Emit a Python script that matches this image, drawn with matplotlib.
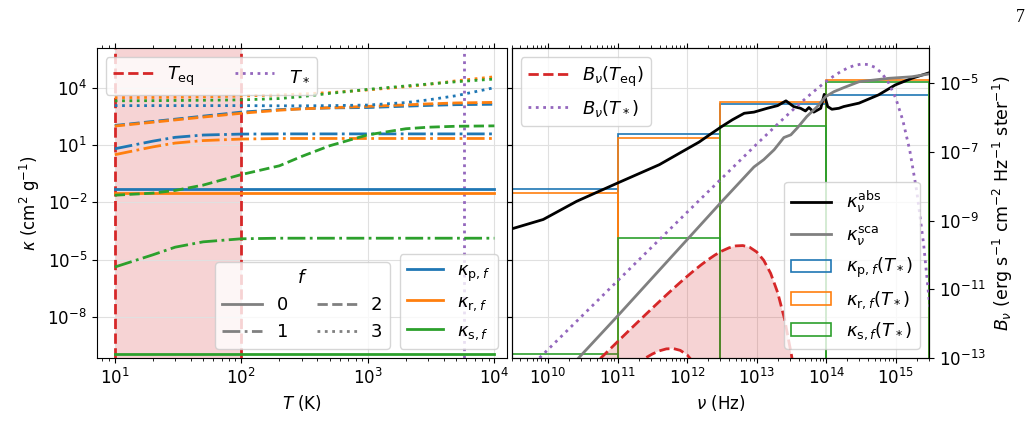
import numpy as np
import matplotlib
matplotlib.use("Agg")
import matplotlib.pyplot as plt
from matplotlib.lines import Line2D
from matplotlib.patches import Patch
from matplotlib.ticker import FixedLocator, NullLocator, LogFormatterSciNotation

# ---------------- data (log10 values) ----------------
T_grid = [10, 20, 30, 50, 100, 200, 300, 500, 1000, 2000, 3000, 5000, 10000]

logkp_f0 = [-1.32, -1.32, -1.32, -1.32, -1.32, -1.32, -1.32, -1.32, -1.32, -1.32, -1.32, -1.32, -1.32]
logkr_f0 = [-1.50, -1.50, -1.50, -1.50, -1.50, -1.50, -1.50, -1.50, -1.50, -1.50, -1.50, -1.50, -1.50]
logks_f0 = [-9.94, -9.94, -9.94, -9.94, -9.94, -9.94, -9.94, -9.94, -9.94, -9.94, -9.94, -9.94, -9.94]

logkp_f1 = [0.80, 1.20, 1.40, 1.52, 1.57, 1.58, 1.58, 1.58, 1.58, 1.58, 1.58, 1.58, 1.58]
logkr_f1 = [0.49, 0.90, 1.10, 1.23, 1.31, 1.34, 1.34, 1.34, 1.34, 1.34, 1.34, 1.34, 1.34]
logks_f1 = [-5.39, -4.75, -4.35, -4.07, -3.91, -3.88, -3.88, -3.88, -3.88, -3.88, -3.88, -3.88, -3.88]

logkp_f2 = [2.02, 2.23, 2.35, 2.51, 2.72, 2.85, 2.90, 2.94, 2.96, 3.03, 3.07, 3.11, 3.13]
logkr_f2 = [1.99, 2.19, 2.31, 2.46, 2.66, 2.82, 2.89, 2.95, 3.02, 3.10, 3.15, 3.20, 3.23]
logks_f2 = [-1.63, -1.52, -1.38, -1.10, -0.55, -0.09, 0.40, 0.96, 1.53, 1.85, 1.93, 1.98, 2.00]

logkp_f3 = [3.06, 3.06, 3.06, 3.06, 3.06, 3.05, 3.05, 3.06, 3.09, 3.22, 3.36, 3.58, 4.00]
logkr_f3 = [3.48, 3.49, 3.50, 3.52, 3.56, 3.62, 3.67, 3.74, 3.88, 4.05, 4.17, 4.36, 4.57]
logks_f3 = [3.31, 3.32, 3.33, 3.34, 3.36, 3.43, 3.53, 3.70, 3.91, 4.09, 4.19, 4.31, 4.45]

T_eq_range = [10, 100]
T_star = 5772

# frequency bands (Hz) and band-mean opacities at T_*
band_edges = [3e9, 1e11, 3e12, 1e14, 3e15]
logkp_band = [-1.31, 1.58, 3.14, 3.63]
logkr_band = [-1.49, 1.34, 3.24, 4.41]
logks_band = [-9.94, -3.88, 2.00, 4.31]

# absorption / scattering opacity spectra
lognu_abs = [9.45, 9.93, 10.41, 11.0, 11.6, 12.01, 12.17, 12.32, 12.49, 12.65, 12.82, 12.96,
             13.15, 13.30, 13.42, 13.53, 13.63, 13.70, 13.75, 13.82, 13.92, 13.97, 14.02,
             14.08, 14.18, 14.25, 14.47, 14.75, 14.99, 15.23, 15.48]
logk_abs = [-3.42, -2.90, -1.95, -0.99, -0.03, 0.82, 1.15, 1.53, 1.95, 2.32, 2.66, 2.72,
            2.92, 3.06, 3.31, 3.01, 2.92, 2.78, 2.96, 2.72, 2.92, 3.65, 3.01,
            2.87, 2.92, 3.01, 3.19, 3.62, 4.14, 4.49, 4.78]
lognu_sca = [10.40, 11.0, 12.0, 12.5, 12.96, 13.10, 13.25, 13.39, 13.49, 13.58, 13.72, 13.87,
             13.99, 14.11, 14.25, 14.47, 14.90, 15.23, 15.48]
logk_sca = [-10.3, -7.95, -3.95, -1.95, -0.15, 0.23, 0.75, 1.39, 1.53, 1.88, 2.49, 3.01,
            3.53, 3.79, 4.00, 4.31, 4.49, 4.57, 4.72]

# Planck curves (log10 B_nu)
lognu_Beq = [10.6, 10.7, 10.8, 10.9, 11.0, 11.1, 11.2, 11.3, 11.4, 11.5, 11.6, 11.7, 11.8, 11.9,
             12.0, 12.1, 12.2, 12.3, 12.4, 12.5, 12.6, 12.7, 12.8, 12.9, 13.0, 13.1, 13.2,
             13.3, 13.4, 13.5, 13.6]
logB_T100 = [-13.317, -13.118, -12.919, -12.721, -12.523, -12.326, -12.129, -11.934, -11.739,
             -11.546, -11.355, -11.166, -10.980, -10.798, -10.621, -10.450, -10.288, -10.137,
             -10.000, -9.883, -9.792, -9.735, -9.725, -9.778, -9.912, -10.154, -10.535,
             -11.090, -11.867, -12.923, -14.329]
logB_T10 = [-14.355, -14.166, -13.980, -13.798, -13.621, -13.450, -13.288, -13.137, -13.000,
            -12.883, -12.792, -12.735, -12.725, -12.778, -12.912, -13.154, -13.535, -14.090,
            -14.867, -15.923, -17.329, -19.18, -21.58, -25.0, -29.0, -34.0, -40.0, -47.0,
            -55.0, -65.0, -77.0]
lognu_Bstar = [9.5, 10.0, 11.0, 12.0, 13.0, 13.3, 13.5, 13.6, 13.7, 13.8, 13.9, 14.0, 14.1, 14.2,
               14.3, 14.4, 14.5, 14.6, 14.7, 14.8, 14.9, 15.0, 15.1, 15.2, 15.3, 15.4, 15.5]
logB_star = [-13.75, -12.751, -10.751, -8.753, -6.769, -6.188, -5.809, -5.625, -5.445, -5.270,
             -5.102, -4.944, -4.798, -4.668, -4.560, -4.481, -4.441, -4.452, -4.534, -4.707,
             -4.999, -5.442, -6.077, -6.954, -8.136, -9.701, -11.749]

# ---------------- figure ----------------
plt.rcParams.update({
    "font.family": "DejaVu Sans",
    "mathtext.fontset": "dejavusans",
    "font.size": 12,
})

C_P, C_R, C_S = "tab:blue", "tab:orange", "tab:green"
C_EQ, C_STAR = "tab:red", "tab:purple"
styles = ["-", "-.", "--", ":"]

fig = plt.figure(figsize=(10.34, 4.23), dpi=100)
axL = fig.add_axes([0.0935, 0.1537, 0.3965, 0.7321])
axR = fig.add_axes([0.4949, 0.1537, 0.4036, 0.7321], sharey=axL)

p10 = lambda a: np.power(10.0, np.asarray(a, dtype=float))

# ---- left panel ----
axL.axvspan(T_eq_range[0], T_eq_range[1], color=C_EQ, alpha=0.2, lw=0)
for Tv in T_eq_range:
    axL.axvline(Tv, color=C_EQ, ls="--", lw=2)
axL.axvline(T_star, color=C_STAR, ls=":", lw=2)

series = [
    (logkp_f0, logkr_f0, logks_f0),
    (logkp_f1, logkr_f1, logks_f1),
    (logkp_f2, logkr_f2, logks_f2),
    (logkp_f3, logkr_f3, logks_f3),
]
for f, (kp, kr, ks) in enumerate(series):
    axL.plot(T_grid, p10(kp), color=C_P, ls=styles[f], lw=2)
    axL.plot(T_grid, p10(kr), color=C_R, ls=styles[f], lw=2)
    axL.plot(T_grid, p10(ks), color=C_S, ls=styles[f], lw=2)

axL.set_xscale("log")
axL.set_yscale("log")
axL.set_xlim(7.2, 1.25e4)
axL.set_ylim(10 ** -10.15, 10 ** 6.06)
axL.yaxis.set_major_locator(FixedLocator([1e-8, 1e-5, 1e-2, 1e1, 1e4]))
axL.yaxis.set_major_formatter(LogFormatterSciNotation())
axL.yaxis.set_minor_locator(NullLocator())
axL.set_xlabel(r"$T$ (K)")
axL.set_ylabel(r"$\kappa$ (cm$^2$ g$^{-1}$)")
axL.grid(True, which="major", color="0.88", lw=0.8)
axL.tick_params(which="both", direction="out", top=True, right=True)

leg_lw = 2
HL = 2.2
legA = axL.legend(handles=[Line2D([], [], color=C_EQ, ls="--", lw=leg_lw),
                           Line2D([], [], color=C_STAR, ls=":", lw=leg_lw)],
                  labels=[r"$T_\mathrm{eq}$", r"$T_*$"], ncol=2, loc="upper left",
                  fontsize=13, handlelength=HL, columnspacing=2.2)
axL.add_artist(legA)
legF = axL.legend(handles=[Line2D([], [], color="gray", ls=s, lw=leg_lw) for s in
                           ["-", "-.", "--", ":"]],
                  labels=["0", "1", "2", "3"], ncol=2, title=r"$f$", title_fontsize=13,
                  loc="lower left", bbox_to_anchor=(0.289, 0.03), borderaxespad=0,
                  fontsize=13, handlelength=HL, columnspacing=1.6)
axL.add_artist(legF)
axL.legend(handles=[Line2D([], [], color=c, lw=leg_lw) for c in (C_P, C_R, C_S)],
           labels=[r"$\kappa_{\mathrm{p},f}$", r"$\kappa_{\mathrm{r},f}$",
                   r"$\kappa_{\mathrm{s},f}$"],
           loc="lower right", fontsize=13, handlelength=2.0)

# ---- right panel ----
edges = np.asarray(band_edges)
widths = np.diff(edges)
for vals, c in ((logkp_band, C_P), (logkr_band, C_R), (logks_band, C_S)):
    axR.bar(edges[:-1], p10(vals), width=widths, align="edge", bottom=1e-14,
            fill=False, edgecolor=c, lw=1.2, zorder=2)
axR.plot(p10(lognu_abs), p10(logk_abs), color="black", lw=2, zorder=3)
axR.plot(p10(lognu_sca), p10(logk_sca), color="gray", lw=2, zorder=3)

axR.set_xscale("log")
axR.set_xlim(3e9, 3e15)
axR.set_ylim(10 ** -10.15, 10 ** 6.06)
axR.set_xlabel(r"$\nu$ (Hz)")
axR.grid(True, which="major", color="0.88", lw=0.8)
axR.tick_params(which="both", direction="out", top=True, right=False, labelleft=False)
axR.xaxis.set_major_locator(FixedLocator([1e10, 1e11, 1e12, 1e13, 1e14, 1e15]))

axT = axR.twinx()
axT.set_yscale("log")
nuB = p10(lognu_Beq)
axT.fill_between(nuB, p10(logB_T10), p10(logB_T100), color=C_EQ, alpha=0.2, lw=0)
axT.plot(nuB, p10(logB_T100), color=C_EQ, ls="--", lw=2)
axT.plot(nuB, p10(logB_T10), color=C_EQ, ls="--", lw=2)
axT.plot(p10(lognu_Bstar), p10(logB_star), color=C_STAR, ls=":", lw=2)
axT.set_ylim(1e-13, 10 ** -3.98)
axT.set_xlim(3e9, 3e15)
axT.yaxis.set_major_locator(FixedLocator([1e-13, 1e-11, 1e-9, 1e-7, 1e-5]))
axT.yaxis.set_major_formatter(LogFormatterSciNotation())
axT.yaxis.set_minor_locator(NullLocator())
axT.set_ylabel(r"$B_\nu$ (erg s$^{-1}$ cm$^{-2}$ Hz$^{-1}$ ster$^{-1}$)", fontsize=12.5)
axT.tick_params(direction="out")

legB = axT.legend(handles=[Line2D([], [], color=C_EQ, ls="--", lw=leg_lw),
                           Line2D([], [], color=C_STAR, ls=":", lw=leg_lw)],
                  labels=[r"$B_\nu(T_\mathrm{eq})$", r"$B_\nu(T_*)$"],
                  loc="upper left", fontsize=13, handlelength=HL)
axT.add_artist(legB)
axT.legend(handles=[Line2D([], [], color="black", lw=leg_lw),
                    Line2D([], [], color="gray", lw=leg_lw),
                    Patch(facecolor="none", edgecolor=C_P, lw=1.2),
                    Patch(facecolor="none", edgecolor=C_R, lw=1.2),
                    Patch(facecolor="none", edgecolor=C_S, lw=1.2)],
           labels=[r"$\kappa_\nu^\mathrm{abs}$", r"$\kappa_\nu^\mathrm{sca}$",
                   r"$\kappa_{\mathrm{p},f}(T_*)$", r"$\kappa_{\mathrm{r},f}(T_*)$",
                   r"$\kappa_{\mathrm{s},f}(T_*)$"],
           loc="lower right", fontsize=13, handlelength=HL)

fig.text(1020 / 1034, 1 - 18 / 423, "7", family="Liberation Serif", fontsize=13,
         ha="center", va="center")

fig.savefig("out.png", dpi=100)
